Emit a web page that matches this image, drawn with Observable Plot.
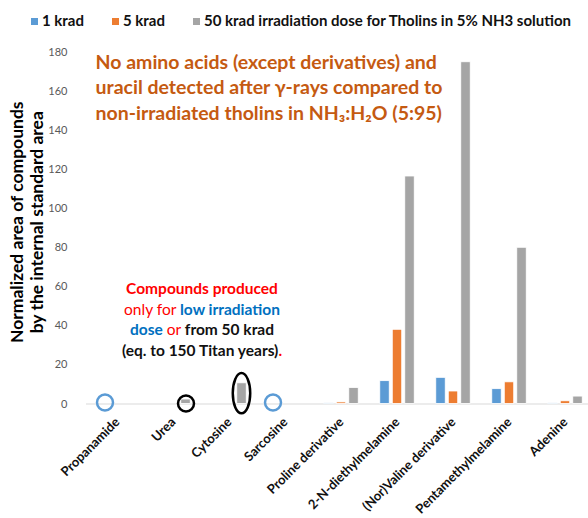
<!DOCTYPE html>
<html>
<head>
<meta charset="utf-8">
<script src="https://cdn.jsdelivr.net/npm/d3@7"></script>
<script src="https://cdn.jsdelivr.net/npm/@observablehq/plot@0.6"></script>
<style>
  html, body { margin: 0; padding: 0; background: #fff; }
  #wrap { position: relative; width: 588px; height: 518px; overflow: hidden; font-family: Lato, sans-serif; }
  #chart { position: absolute; left: 0; top: 0; }
  #legend { position: absolute; left: 0; top: 0; width: 588px; height: 40px; font-weight: bold; font-size: 15px; color: #111; }
  .lg { position: absolute; top: 11px; white-space: nowrap; line-height: 18px; }
  .sw { display: inline-block; width: 7px; height: 7px; margin-right: 4px; vertical-align: 1px; }
  #note { position: absolute; left: 102px; top: 278px; width: 200px; text-align: center; font-size: 15.5px; line-height: 20.7px; font-weight: bold; color: #111; white-space: nowrap; }
  .red { color: #ff0000; }
  .blue { color: #0070c0; }
  .thin { font-weight: normal; }
  g[aria-label^="x-axis"] text { font-weight: bold; font-size: 13px; fill: #111; }
  g[aria-label^="y-axis"] text { fill: #595959; font-size: 11px; }
</style>
</head>
<body>
<div id="wrap">
  <div id="chart"></div>
  <div id="legend"></div>
  <div id="note">
    <div class="red">Compounds produced</div>
    <div><span class="red thin">only for </span><span class="blue">low irradiation</span></div>
    <div><span class="blue">dose</span><span class="red thin"> or </span><span>from 50 krad</span></div>
    <div>(eq. to 150 Titan years)<span class="red">.</span></div>
  </div>
</div>
<script>
// ---- data ----
const compounds = ["Propanamide", "Urea", "Cytosine", "Sarcosine", "Proline derivative",
  "2-N-diethylmelamine", "(Nor)Valine derivative", "Pentamethylmelamine", "Adenine"];
const krad1  = [0, 0, 0, 0, 0.3, 11.7, 13.4, 7.6, 0.3];
const krad5  = [0, 0, 0, 0, 0.8, 38, 6.4, 11.1, 1.4];
const krad50 = [0, 2.3, 10.6, 0, 8.2, 116.5, 175, 80, 3.8];
const seriesNames = ["1 krad", "5 krad", "50 krad irradiation dose for Tholins in 5% NH3 solution"];
const seriesColors = ["#5b9bd5", "#ed7d31", "#a5a5a5"];
const yTicks = [0, 20, 40, 60, 80, 100, 120, 140, 160, 180];
const titleText = "No amino acids (except derivatives) and\nuracil detected after \u03b3-rays compared to\nnon-irradiated tholins in NH\u2083:H\u2082O (5:95)";
const yTitle = "Normalized area of compounds\nby the internal standard area";
const blueCircled = ["Propanamide", "Sarcosine"];
const blackCircled = ["Urea"];
const blackEllipse = [{compound: "Cytosine", lo: -5, hi: 15.6}];

// ---- layout ----
const W = 588, H = 518, ML = 86, MT = 52, MB = 114.5;
const xStart = 86, xEnd = 595;
const B = (xEnd - xStart) / compounds.length;   // band width
const bw = 10, gap = 12.5;
const mid = (B - bw) / 2;

const rows = compounds.map((c, i) => ({compound: c, v1: krad1[i], v5: krad5[i], v50: krad50[i]}));

const plot = Plot.plot({
  width: W, height: H,
  marginLeft: ML, marginRight: 0, marginTop: MT, marginBottom: MB,
  style: {fontFamily: "Lato, sans-serif", fontSize: "11px", background: "transparent", overflow: "visible"},
  x: {domain: compounds, range: [xStart, xEnd], padding: 0, tickSize: 0, tickPadding: 16, tickRotate: -45, label: null},
  y: {domain: [0, 180], ticks: yTicks, tickSize: 0, tickPadding: 19, label: null},
  marks: [
    Plot.ruleY([0], {stroke: "#d9d9d9", strokeWidth: 1.2}),
    Plot.barY(rows, {x: "compound", y: "v1", fill: seriesColors[0], stroke: "white", strokeWidth: 0.8, insetLeft: mid - gap, insetRight: mid + gap}),
    Plot.barY(rows, {x: "compound", y: "v5", fill: seriesColors[1], stroke: "white", strokeWidth: 0.8, insetLeft: mid, insetRight: mid}),
    Plot.barY(rows, {x: "compound", y: "v50", fill: seriesColors[2], stroke: "white", strokeWidth: 0.8, insetLeft: mid + gap, insetRight: mid - gap}),
    Plot.dot(blueCircled, {x: d => d, y: () => 0, dx: -gap, dy: -1.5, r: 8, stroke: seriesColors[0], strokeWidth: 2.5, fill: "none"}),
    Plot.dot(blackCircled, {x: d => d, y: () => 0, dx: gap, dy: -0.5, r: 8, stroke: "#000", strokeWidth: 2.5, fill: "none"}),
    Plot.barY(blackEllipse, {x: "compound", y1: "lo", y2: "hi", fill: "none", stroke: "#000", strokeWidth: 2.5,
      insetLeft: mid + gap - 4, insetRight: mid - gap - 4, rx: 9, ry: 20}),
    Plot.text([titleText], {frameAnchor: "top-left", textAnchor: "start", lineAnchor: "top", dx: 9, dy: -2,
      fill: "#c55a11", fontWeight: "bold", fontSize: 19.5, lineHeight: 1.31}),
    Plot.text([yTitle], {frameAnchor: "left", rotate: -90, dx: -60, dy: -6, lineAnchor: "middle", textAnchor: "middle",
      fill: "#000", fontWeight: "bold", fontSize: 17.5, lineHeight: 1.15})
  ]
});
document.getElementById("chart").appendChild(plot);

// ---- legend ----
const lg = document.getElementById("legend");
const lgLeft = [31, 112, 193];
seriesNames.forEach((n, i) => {
  const d = document.createElement("div");
  d.className = "lg";
  d.style.left = lgLeft[i] + "px";
  d.innerHTML = `<span class="sw" style="background:${seriesColors[i]}"></span>${n}`;
  lg.appendChild(d);
});
</script>
</body>
</html>
